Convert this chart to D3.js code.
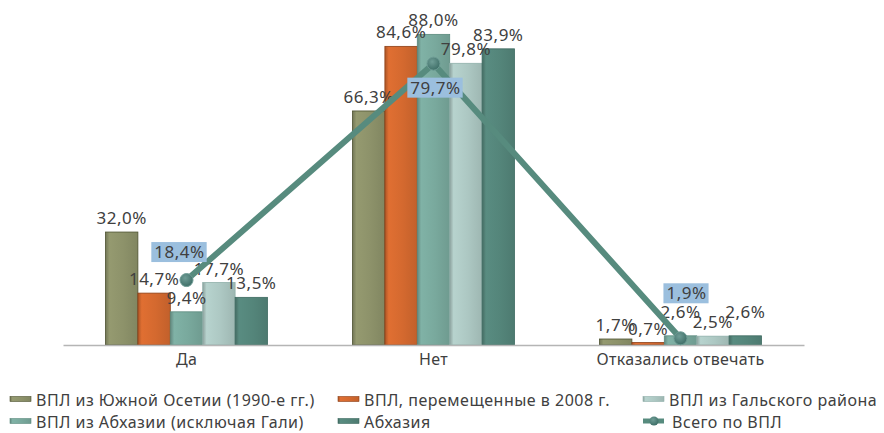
<!DOCTYPE html>
<html>
<head>
<meta charset="utf-8">
<script src="https://cdn.jsdelivr.net/npm/d3@7"></script>
<style>
  body { margin: 0; background: #fff; }
  svg text { font-family: "Noto Sans", "Open Sans", sans-serif; fill: #404040; }
</style>
</head>
<body>
<div id="chart"></div>
<script>
// chart size
var width = 884;
var height = 433;

// data
var categories = ["Да", "Нет", "Отказались отвечать"];
var seriesNames = ["ВПЛ из Южной Осетии (1990-е гг.)", "ВПЛ, перемещенные в 2008 г.",
  "ВПЛ из Абхазии (исключая Гали)", "ВПЛ из Гальского района", "Абхазия"];
var southOssetia = [32.0, 66.3, 1.7];
var displaced2008 = [14.7, 84.6, 0.7];
var abkhaziaExGali = [9.4, 88.0, 2.6];
var galiDistrict = [17.7, 79.8, 2.5];
var abkhazia = [13.5, 83.9, 2.6];
var totalName = "Всего по ВПЛ";
var totalIdp = [18.4, 79.7, 1.9];

var seriesValues = [southOssetia, displaced2008, abkhaziaExGali, galiDistrict, abkhazia];

// styles
var barColors = ["#8d926a", "#d4692f", "#79a99d", "#adc8c3", "#54857a"];
var barEdges = ["#4d5230", "#8c3f17", "#5b8a7e", "#8fb0aa", "#3d6a60"];
var lineColor = "#578b7e";
var labelBox = "#9bbfde";

// legend layout: row-wise, 3 columns
var legendOrder = [0, 1, 3, 2, 4, "total"];
var legendX = [10, 338, 643];
var legendY = [399, 421];

// label nudges (Excel moved a few labels)
var barLabelNudge = { "2-2": -10, "2-4": -10 };
var totalLabelOffset = [[-7, -28], [2, 24], [6, -45]];

var svg = d3.select("#chart").append("svg")
  .attr("width", width)
  .attr("height", height);

var defs = svg.append("defs");
barColors.forEach(function(c, i) {
  var g = defs.append("linearGradient")
    .attr("id", "bar-grad-" + i)
    .attr("x1", "0%").attr("x2", "100%").attr("y1", "0%").attr("y2", "0%");
  g.append("stop").attr("offset", "0%").attr("stop-color", d3.color(c).darker(0.6));
  g.append("stop").attr("offset", "12%").attr("stop-color", d3.color(c).brighter(0.15));
  g.append("stop").attr("offset", "55%").attr("stop-color", c);
  g.append("stop").attr("offset", "100%").attr("stop-color", d3.color(c).darker(0.25));
});
var mg = defs.append("radialGradient").attr("id", "marker-grad")
  .attr("cx", "40%").attr("cy", "35%").attr("r", "65%");
mg.append("stop").attr("offset", "0%").attr("stop-color", "#6f9d96");
mg.append("stop").attr("offset", "100%").attr("stop-color", "#3f6f68");

// scales
var x0 = d3.scaleBand()
  .domain(categories)
  .range([63, 804])
  .paddingInner(0.344)
  .paddingOuter(0.172);

var x1 = d3.scaleBand()
  .domain(d3.range(seriesNames.length))
  .range([0, x0.bandwidth()]);

var y = d3.scaleLinear()
  .domain([0, 100])
  .range([345, -8]);

var fmt = function(v) { return d3.format(".1f")(v).replace(".", ",") + "%"; };

// bars
var groups = svg.selectAll("g.group")
  .data(categories)
  .enter()
  .append("g")
  .attr("class", "group")
  .attr("transform", function(d) { return "translate(" + x0(d) + ",0)"; });

groups.selectAll("rect")
  .data(function(d, ci) { return seriesValues.map(function(vals, si) { return { s: si, c: ci, v: vals[ci] }; }); })
  .enter()
  .append("rect")
  .attr("x", function(d) { return x1(d.s); })
  .attr("width", x1.bandwidth())
  .attr("y", function(d) { return y(d.v); })
  .attr("height", function(d) { return y(0) - y(d.v); })
  .style("fill", function(d) { return "url(#bar-grad-" + d.s + ")"; })
  .style("stroke", function(d) { return barEdges[d.s]; })
  .style("stroke-width", 0.8);

// axis line and category labels
var xAxis = d3.axisBottom(x0).tickSize(0).tickPadding(9);
var axisG = svg.append("g")
  .attr("transform", "translate(0," + y(0) + ")")
  .call(xAxis);
axisG.select(".domain").attr("stroke", "#b5b5b5").attr("stroke-width", 1.5);
axisG.selectAll("text")
  .style("font-size", "16px")
  .style("letter-spacing", "0.3px")
  .style("font-family", "'Noto Sans', sans-serif")
  .attr("fill", "#404040");

// bar value labels
groups.selectAll("text.val")
  .data(function(d, ci) { return seriesValues.map(function(vals, si) { return { s: si, c: ci, v: vals[ci] }; }); })
  .enter()
  .append("text")
  .attr("class", "val")
  .attr("x", function(d) { return x1(d.s) + x1.bandwidth() / 2; })
  .attr("y", function(d) { return y(d.v) - 8 + (barLabelNudge[d.c + "-" + d.s] || 0); })
  .attr("text-anchor", "middle")
  .style("font-size", "17px")
  .style("letter-spacing", "0.5px")
  .text(function(d) { return fmt(d.v); });

// total line
var cx = function(i) { return x0(categories[i]) + x0.bandwidth() / 2; };
var line = d3.line()
  .x(function(d, i) { return cx(i); })
  .y(function(d) { return y(d); });

svg.append("path")
  .datum(totalIdp)
  .attr("d", line)
  .attr("fill", "none")
  .attr("stroke", lineColor)
  .attr("stroke-width", 6)
  .attr("stroke-linejoin", "round");

svg.selectAll("circle.pt")
  .data(totalIdp)
  .enter()
  .append("circle")
  .attr("class", "pt")
  .attr("cx", function(d, i) { return cx(i); })
  .attr("cy", function(d) { return y(d); })
  .attr("r", 6.5)
  .attr("fill", "url(#marker-grad)")
  .attr("stroke", "#6c9a93")
  .attr("stroke-width", 1);

// total labels with blue boxes
var tl = svg.selectAll("g.tlabel")
  .data(totalIdp)
  .enter()
  .append("g")
  .attr("class", "tlabel")
  .attr("transform", function(d, i) {
    return "translate(" + (cx(i) + totalLabelOffset[i][0]) + "," + (y(d) + totalLabelOffset[i][1]) + ")";
  });
tl.append("text")
  .attr("text-anchor", "middle")
  .attr("dy", "0.36em")
  .style("font-size", "17px")
  .style("letter-spacing", "0.5px")
  .text(function(d) { return fmt(d); })
  .each(function() {
    var bb = this.getBBox();
    d3.select(this.parentNode).insert("rect", "text")
      .attr("x", bb.x - 3)
      .attr("y", -10)
      .attr("width", bb.width + 5)
      .attr("height", 20)
      .attr("fill", labelBox);
  });

// legend
var legend = svg.append("g").attr("class", "legend");
legendOrder.forEach(function(k, i) {
  var lx = legendX[i % 3];
  var ly = legendY[Math.floor(i / 3)];
  var item = legend.append("g").attr("transform", "translate(" + lx + "," + ly + ")");
  if (k === "total") {
    item.append("line")
      .attr("x1", 0).attr("x2", 21).attr("y1", 0).attr("y2", 0)
      .attr("stroke", lineColor).attr("stroke-width", 5);
    item.append("circle")
      .attr("cx", 11).attr("cy", 0).attr("r", 4.5)
      .attr("fill", "url(#marker-grad)");
    item.append("text").attr("x", 29).attr("y", 7)
      .style("font-size", "16px").style("letter-spacing", "0.5px").text(totalName);
  } else {
    item.append("rect")
      .attr("x", 0).attr("y", -2.5).attr("width", 21).attr("height", 5)
      .style("fill", "url(#bar-grad-" + k + ")")
      .style("stroke", barEdges[k]).style("stroke-width", 0.6);
    item.append("text").attr("x", 26).attr("y", 7)
      .style("font-size", "16px").style("letter-spacing", "0.5px").text(seriesNames[k]);
  }
});
</script>
</body>
</html>
